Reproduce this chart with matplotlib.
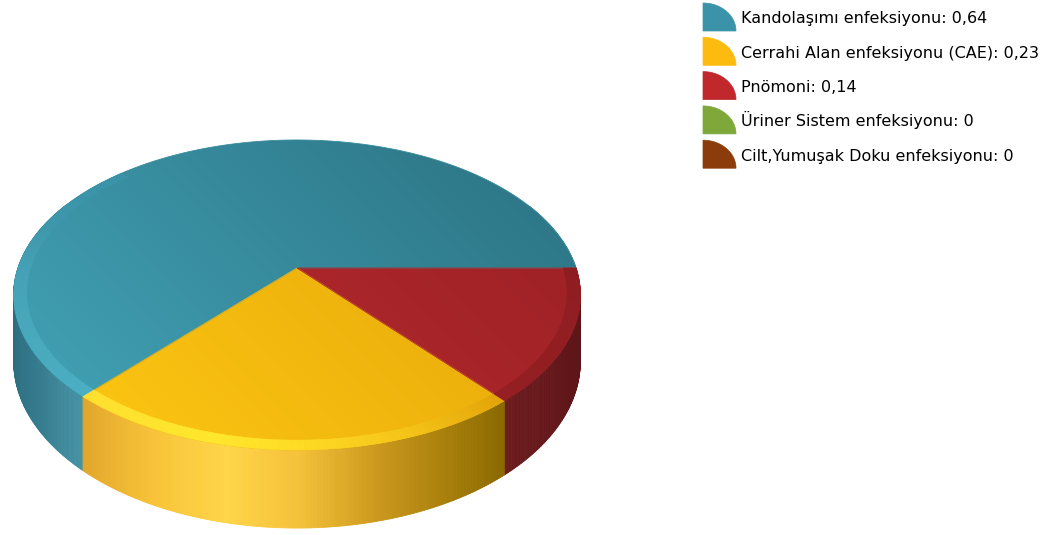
import numpy as np
import matplotlib
matplotlib.use('Agg')
import matplotlib.pyplot as plt
from matplotlib.patches import Polygon
from matplotlib.colors import to_rgb

# ---------------- data ----------------
labels = ['Kandolaşımı enfeksiyonu', 'Cerrahi Alan enfeksiyonu (CAE)', 'Pnömoni',
          'Üriner Sistem enfeksiyonu', 'Cilt,Yumuşak Doku enfeksiyonu']
values = [0.64, 0.23, 0.14, 0, 0]
value_labels = ['0,64', '0,23', '0,14', '0', '0']
colors = ['#3A93A8', '#FDBB10', '#C0282C', '#7FA83A', '#8B3C0A']

# ---------------- styles ----------------
top_grad = [('#44A6BA', '#2A7080'), ('#FFCB14', '#E2A008'), ('#BC2C30', '#9A2024'),
            ('#8DB845', '#6E9530'), ('#9A4510', '#7A3008')]
side_stops = [
    [(0, '#2E7080'), (131.9, '#4693A5'), (145, '#357D8F'), (165, '#2C6D7E'), (185, '#28687A'), (360, '#2E7080')],
    [(0, '#8A6800'), (49.9, '#8A6800'), (61, '#A27B08'), (75, '#C8951A'), (90, '#F5C23A'), (102, '#FFD548'),
     (115, '#F8C438'), (131.9, '#E0A52A'), (360, '#E0A52A')],
    [(0, '#5C1418'), (25, '#601619'), (49.9, '#6C1B1E'), (360, '#6C1B1E')],
    [(0, '#55782A'), (360, '#55782A')],
    [(0, '#5A2806'), (360, '#5A2806')],
]
rim_stops = [
    [(0, '#3A8C9F'), (131.9, '#4CAFC3'), (175, '#47A4B8'), (200, '#3E97AB'), (225, '#3A93A7'), (360, '#3A93A7')],
    [(0, '#E2A40A'), (49.9, '#E2A40A'), (70, '#F5C418'), (90, '#FFDC26'), (105, '#FFE82E'), (131.9, '#FFE030'), (360, '#FFE030')],
    [(0, '#8E1D21'), (49.9, '#951F23'), (360, '#951F23')],
    [(0, '#9CC850'), (360, '#9CC850')],
    [(0, '#A85018'), (360, '#A85018')],
]

# projection parameters (pixel space)
CX, CY = 297, 268
A, B, K, H = 279, 150.3, 0.174, 64.5


def proj(theta_deg, r=1.0, down=0.0):
    t = np.radians(theta_deg)
    x = r * np.cos(t)
    z = -r * np.sin(t)
    w = 1 - K * z
    return CX + A * x / w, CY + (B * z + H * down) / w


def interp_color(stops, phi):
    ps = [s[0] for s in stops]
    cs = np.array([to_rgb(s[1]) for s in stops])
    return tuple(np.interp(phi, ps, cs[:, k]) for k in range(3))


fig = plt.figure(figsize=(10.5, 5.35), dpi=100)
ax = fig.add_axes([0, 0, 1, 1])
ax.set_xlim(0, 1050)
ax.set_ylim(535, 0)
ax.axis('off')

total = float(sum(values))
bounds = []
cum = 0.0
for v in values:
    f = v / total
    bounds.append((cum * 360, (cum + f) * 360))
    cum += f

# ---------- sides (painter's order) ----------
quads = []
for i, (t1, t2) in enumerate(bounds):
    if t2 - t1 <= 0:
        continue
    n = max(2, int((t2 - t1) / 0.5))
    th = np.linspace(t1, t2, n + 1)
    for j in range(n):
        a, b = th[j], th[j + 1]
        m = 0.5 * (a + b)
        zm = -np.sin(np.radians(m))
        if zm < -0.45:
            continue
        phi = (-m) % 360
        p1 = proj(a); p2 = proj(b)
        p3 = proj(b, down=1); p4 = proj(a, down=1)
        col = interp_color(side_stops[i], phi)
        quads.append((zm, [p1, p2, p3, p4], col))
quads.sort(key=lambda q: q[0])
for zm, pts, col in quads:
    ax.add_patch(Polygon(pts, closed=True, facecolor=col, edgecolor=col, lw=0.6))

# ---------- top faces with gradient ----------
x0, x1, y0, y1 = 0, 600, 120, 470
X, Y = np.meshgrid(np.arange(x0, x1) + 0.5, np.arange(y0, y1) + 0.5)
T = np.clip(((X - 14) + (460 - Y)) / 906.0, 0, 1)
for i, (t1, t2) in enumerate(bounds):
    if t2 - t1 <= 0:
        continue
    th = np.linspace(t1, t2, max(3, int((t2 - t1) * 2)))
    pts = [(CX, CY)] + [proj(t) for t in th]
    poly = Polygon(pts, closed=True, facecolor='none', edgecolor='none')
    ax.add_patch(poly)
    c0 = np.array(to_rgb(top_grad[i][0])); c1 = np.array(to_rgb(top_grad[i][1]))
    img = c0[None, None, :] * (1 - T[..., None]) + c1[None, None, :] * T[..., None]
    im = ax.imshow(img, extent=(x0, x1, y1, y0), origin='upper', interpolation='bilinear', zorder=2)
    im.set_clip_path(poly)
    ax.add_patch(Polygon(pts, closed=True, facecolor='none',
                         edgecolor=tuple(c0 * 0.5 + c1 * 0.5), lw=0.6, zorder=2.1))

# ---------- rim bevel ----------
for i, (t1, t2) in enumerate(bounds):
    if t2 - t1 <= 0:
        continue
    n = max(2, int((t2 - t1) / 0.5))
    th = np.linspace(t1, t2, n + 1)
    for j in range(n):
        a, b = th[j], th[j + 1]
        m = 0.5 * (a + b)
        phi = (-m) % 360
        if phi > 225:
            continue
        pts = [proj(a, 1.0), proj(b, 1.0), proj(b, 0.955), proj(a, 0.955)]
        col = interp_color(rim_stops[i], phi)
        ax.add_patch(Polygon(pts, closed=True, facecolor=col, edgecolor=col, lw=0.4, zorder=3))

# ---------- legend ----------
for i, (lab, vl, col) in enumerate(zip(labels, value_labels, colors)):
    top = 3 + 34.3 * i
    a = np.linspace(0, np.pi / 2, 40)
    pts = [(703, top + 28)] + [(703 + 33 * np.cos(t), top + 28 - 28 * np.sin(t)) for t in a]
    ax.add_patch(Polygon(pts, closed=True, facecolor=col, edgecolor=col, lw=0.5, zorder=4))
    ax.text(741, top + 20.5, f'{lab}: {vl}', fontsize=11.5, va='baseline', ha='left',
            color='#000000', family='DejaVu Sans', zorder=5)

fig.savefig('out.png', dpi=100)
